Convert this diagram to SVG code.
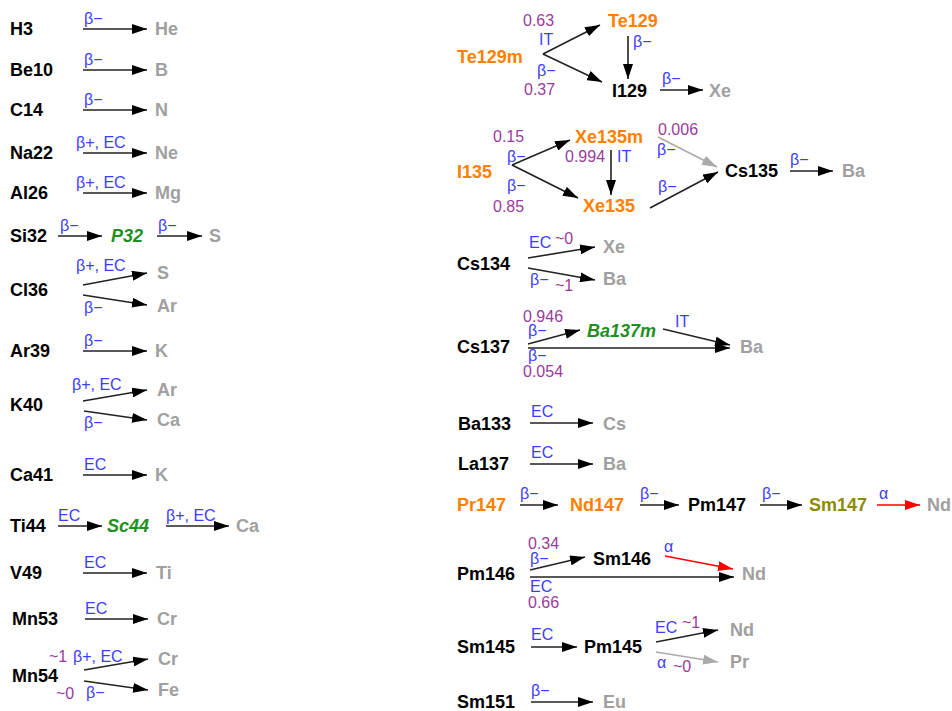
<svg xmlns="http://www.w3.org/2000/svg" width="952" height="711" viewBox="0 0 952 711">
<defs>
<style>
.n{font:bold 18px "Liberation Sans",Arial,sans-serif;fill:#000}
.o{fill:#ff8000}
.g{fill:#a0a0a0}
.gr{fill:#1f8f1f;font-style:italic}
.ol{fill:#8b8b00}
.l{font:16px "Liberation Sans",Arial,sans-serif;fill:#3c3cff}
.p{font:16px "Liberation Sans",Arial,sans-serif;fill:#9b3a9b}
.e{stroke:#222;stroke-width:1.6;fill:none;marker-end:url(#ah)}
.eg{stroke:#aaa;stroke-width:1.6;fill:none;marker-end:url(#ahg)}
.er{stroke:#f00;stroke-width:1.6;fill:none;marker-end:url(#ahr)}
</style>
<marker id="ah" markerUnits="userSpaceOnUse" markerWidth="15" markerHeight="10" refX="15" refY="5" orient="auto"><path d="M0,0 L15,5 L0,10 z" fill="#000"/></marker>
<marker id="ahg" markerUnits="userSpaceOnUse" markerWidth="15" markerHeight="10" refX="15" refY="5" orient="auto"><path d="M0,0 L15,5 L0,10 z" fill="#aaa"/></marker>
<marker id="ahr" markerUnits="userSpaceOnUse" markerWidth="15" markerHeight="10" refX="15" refY="5" orient="auto"><path d="M0,0 L15,5 L0,10 z" fill="#f00"/></marker>
</defs>
<rect width="952" height="711" fill="#fff"/>
<g id="connectors">
<path class="e" d="M83,29 H147"/>
<path class="e" d="M83,70 H147"/>
<path class="e" d="M83,110 H147"/>
<path class="e" d="M83,153 H147"/>
<path class="e" d="M83,193 H147"/>
<path class="e" d="M58,236 H102"/>
<path class="e" d="M157,236 H202"/>
<path class="e" d="M83,285 L147,273"/>
<path class="e" d="M83,295 L147,305"/>
<path class="e" d="M83,351 H147"/>
<path class="e" d="M83,401 L147,390"/>
<path class="e" d="M84,411 L147,420"/>
<path class="e" d="M83,475 H147"/>
<path class="e" d="M58,526 H102"/>
<path class="e" d="M166,526 H229"/>
<path class="e" d="M83,573 H147"/>
<path class="e" d="M85,619 H148"/>
<path class="e" d="M84,670 L148,659"/>
<path class="e" d="M84,681 L148,690"/>
<path class="e" d="M543,54 L600,25"/>
<path class="e" d="M543,54 L602,82"/>
<path class="e" d="M628,36 V79"/>
<path class="e" d="M660,90 H703"/>
<path class="e" d="M512,165 L570,140"/>
<path class="e" d="M512,165 L578,198"/>
<path class="e" d="M611,150 V195"/>
<path class="eg" d="M658,137 L717,167"/>
<path class="e" d="M650,208 L718,172"/>
<path class="e" d="M790,171 H833"/>
<path class="e" d="M528,258 L595,247"/>
<path class="e" d="M528,268 L595,280"/>
<path class="e" d="M528,344 L580,330"/>
<path class="e" d="M663,329 L730,345"/>
<path class="e" d="M528,348 H730"/>
<path class="e" d="M530,423 H593"/>
<path class="e" d="M530,464 H593"/>
<path class="e" d="M520,505 H558"/>
<path class="e" d="M640,505 H679"/>
<path class="e" d="M760,505 H802"/>
<path class="er" d="M877,505 H920"/>
<path class="e" d="M530,570 L585,557"/>
<path class="er" d="M665,556 L733,569"/>
<path class="e" d="M530,577 H734"/>
<path class="e" d="M531,647 H577"/>
<path class="e" d="M656,642 L718,630"/>
<path class="eg" d="M656,652 L718,662"/>
<path class="e" d="M531,702 H593"/>
</g>
<g id="edge-labels">
<text class="l" x="84" y="24">β−</text>
<text class="l" x="84" y="65">β−</text>
<text class="l" x="84" y="105">β−</text>
<text class="l" x="76" y="148">β+, EC</text>
<text class="l" x="76" y="188">β+, EC</text>
<text class="l" x="60" y="231">β−</text>
<text class="l" x="158" y="231">β−</text>
<text class="l" x="76" y="271">β+, EC</text>
<text class="l" x="84" y="313">β−</text>
<text class="l" x="84" y="346">β−</text>
<text class="l" x="72" y="390">β+, EC</text>
<text class="l" x="84" y="428">β−</text>
<text class="l" x="84" y="470">EC</text>
<text class="l" x="58" y="521">EC</text>
<text class="l" x="166" y="521">β+, EC</text>
<text class="l" x="84" y="568">EC</text>
<text class="l" x="85" y="614">EC</text>
<text class="p" x="49" y="662">~1</text>
<text class="l" x="73" y="662">β+, EC</text>
<text class="p" x="56" y="699">~0</text>
<text class="l" x="86" y="698">β−</text>
<text class="p" x="523" y="26">0.63</text>
<text class="l" x="539" y="45">IT</text>
<text class="l" x="537" y="76">β−</text>
<text class="p" x="524" y="95">0.37</text>
<text class="l" x="633" y="47">β−</text>
<text class="l" x="662" y="84">β−</text>
<text class="p" x="493" y="142">0.15</text>
<text class="l" x="507" y="162">β−</text>
<text class="l" x="507" y="191">β−</text>
<text class="p" x="493" y="212">0.85</text>
<text class="p" x="565" y="162">0.994</text>
<text class="l" x="617" y="162">IT</text>
<text class="p" x="658" y="135">0.006</text>
<text class="l" x="657" y="155">β−</text>
<text class="l" x="658" y="192">β−</text>
<text class="l" x="790" y="165">β−</text>
<text class="l" x="529" y="248">EC</text>
<text class="p" x="555" y="244">~0</text>
<text class="l" x="530" y="285">β−</text>
<text class="p" x="555" y="291">~1</text>
<text class="p" x="523" y="322">0.946</text>
<text class="l" x="528" y="336">β−</text>
<text class="l" x="675" y="327">IT</text>
<text class="l" x="528" y="361">β−</text>
<text class="p" x="523" y="377">0.054</text>
<text class="l" x="531" y="417">EC</text>
<text class="l" x="531" y="458">EC</text>
<text class="l" x="520" y="499">β−</text>
<text class="l" x="640" y="499">β−</text>
<text class="l" x="762" y="499">β−</text>
<text class="l" x="879" y="499">α</text>
<text class="p" x="528" y="549">0.34</text>
<text class="l" x="530" y="564">β−</text>
<text class="l" x="664" y="552">α</text>
<text class="l" x="530" y="592">EC</text>
<text class="p" x="528" y="608">0.66</text>
<text class="l" x="531" y="640">EC</text>
<text class="l" x="655" y="633">EC</text>
<text class="p" x="682" y="628">~1</text>
<text class="l" x="657" y="668">α</text>
<text class="p" x="673" y="672">~0</text>
<text class="l" x="531" y="696">β−</text>
</g>
<g id="H3"><text class="n" x="10" y="35">H3</text></g>
<g id="He"><text class="n g" x="155" y="35">He</text></g>
<g id="Be10"><text class="n" x="10" y="76">Be10</text></g>
<g id="B"><text class="n g" x="155" y="76">B</text></g>
<g id="C14"><text class="n" x="10" y="116">C14</text></g>
<g id="N"><text class="n g" x="155" y="116">N</text></g>
<g id="Na22"><text class="n" x="10" y="159">Na22</text></g>
<g id="Ne"><text class="n g" x="155" y="159">Ne</text></g>
<g id="Al26"><text class="n" x="10" y="199">Al26</text></g>
<g id="Mg"><text class="n g" x="155" y="199">Mg</text></g>
<g id="Si32"><text class="n" x="10" y="242">Si32</text></g>
<g id="P32"><text class="n gr" x="111" y="242">P32</text></g>
<g id="S1"><text class="n g" x="209" y="242">S</text></g>
<g id="Cl36"><text class="n" x="10" y="296">Cl36</text></g>
<g id="S2"><text class="n g" x="157" y="279">S</text></g>
<g id="Ar1"><text class="n g" x="157" y="312">Ar</text></g>
<g id="Ar39"><text class="n" x="10" y="357">Ar39</text></g>
<g id="K1"><text class="n g" x="155" y="357">K</text></g>
<g id="K40"><text class="n" x="10" y="411">K40</text></g>
<g id="Ar2"><text class="n g" x="157" y="396">Ar</text></g>
<g id="Ca1"><text class="n g" x="157" y="426">Ca</text></g>
<g id="Ca41"><text class="n" x="10" y="481">Ca41</text></g>
<g id="K2"><text class="n g" x="155" y="481">K</text></g>
<g id="Ti44"><text class="n" x="10" y="532">Ti44</text></g>
<g id="Sc44"><text class="n gr" x="107" y="532">Sc44</text></g>
<g id="Ca2"><text class="n g" x="236" y="532">Ca</text></g>
<g id="V49"><text class="n" x="10" y="579">V49</text></g>
<g id="Ti"><text class="n g" x="156" y="579">Ti</text></g>
<g id="Mn53"><text class="n" x="12" y="625">Mn53</text></g>
<g id="Cr1"><text class="n g" x="157" y="625">Cr</text></g>
<g id="Mn54"><text class="n" x="12" y="682">Mn54</text></g>
<g id="Cr2"><text class="n g" x="158" y="665">Cr</text></g>
<g id="Fe"><text class="n g" x="158" y="696">Fe</text></g>
<g id="Te129m"><text class="n o" x="457" y="63">Te129m</text></g>
<g id="Te129"><text class="n o" x="608" y="27">Te129</text></g>
<g id="I129"><text class="n" x="612" y="97">I129</text></g>
<g id="Xe1"><text class="n g" x="709" y="97">Xe</text></g>
<g id="I135"><text class="n o" x="457" y="178">I135</text></g>
<g id="Xe135m"><text class="n o" x="575" y="143">Xe135m</text></g>
<g id="Xe135"><text class="n o" x="583" y="212">Xe135</text></g>
<g id="Cs135"><text class="n" x="725" y="177">Cs135</text></g>
<g id="Ba1"><text class="n g" x="842" y="177">Ba</text></g>
<g id="Cs134"><text class="n" x="457" y="270">Cs134</text></g>
<g id="Xe2"><text class="n g" x="603" y="253">Xe</text></g>
<g id="Ba2"><text class="n g" x="603" y="285">Ba</text></g>
<g id="Cs137"><text class="n" x="457" y="353">Cs137</text></g>
<g id="Ba137m"><text class="n gr" x="587" y="337">Ba137m</text></g>
<g id="Ba3"><text class="n g" x="740" y="353">Ba</text></g>
<g id="Ba133"><text class="n" x="458" y="430">Ba133</text></g>
<g id="Cs"><text class="n g" x="603" y="430">Cs</text></g>
<g id="La137"><text class="n" x="458" y="470">La137</text></g>
<g id="Ba4"><text class="n g" x="603" y="470">Ba</text></g>
<g id="Pr147"><text class="n o" x="457" y="511">Pr147</text></g>
<g id="Nd147"><text class="n o" x="570" y="511">Nd147</text></g>
<g id="Pm147"><text class="n" x="688" y="511">Pm147</text></g>
<g id="Sm147"><text class="n ol" x="809" y="511">Sm147</text></g>
<g id="Nd1"><text class="n g" x="927" y="511">Nd</text></g>
<g id="Pm146"><text class="n" x="457" y="580">Pm146</text></g>
<g id="Sm146"><text class="n" x="593" y="565">Sm146</text></g>
<g id="Nd2"><text class="n g" x="742" y="580">Nd</text></g>
<g id="Sm145"><text class="n" x="457" y="653">Sm145</text></g>
<g id="Pm145"><text class="n" x="584" y="653">Pm145</text></g>
<g id="Nd3"><text class="n g" x="730" y="636">Nd</text></g>
<g id="Pr"><text class="n g" x="730" y="668">Pr</text></g>
<g id="Sm151"><text class="n" x="457" y="708">Sm151</text></g>
<g id="Eu"><text class="n g" x="603" y="708">Eu</text></g>
</svg>
